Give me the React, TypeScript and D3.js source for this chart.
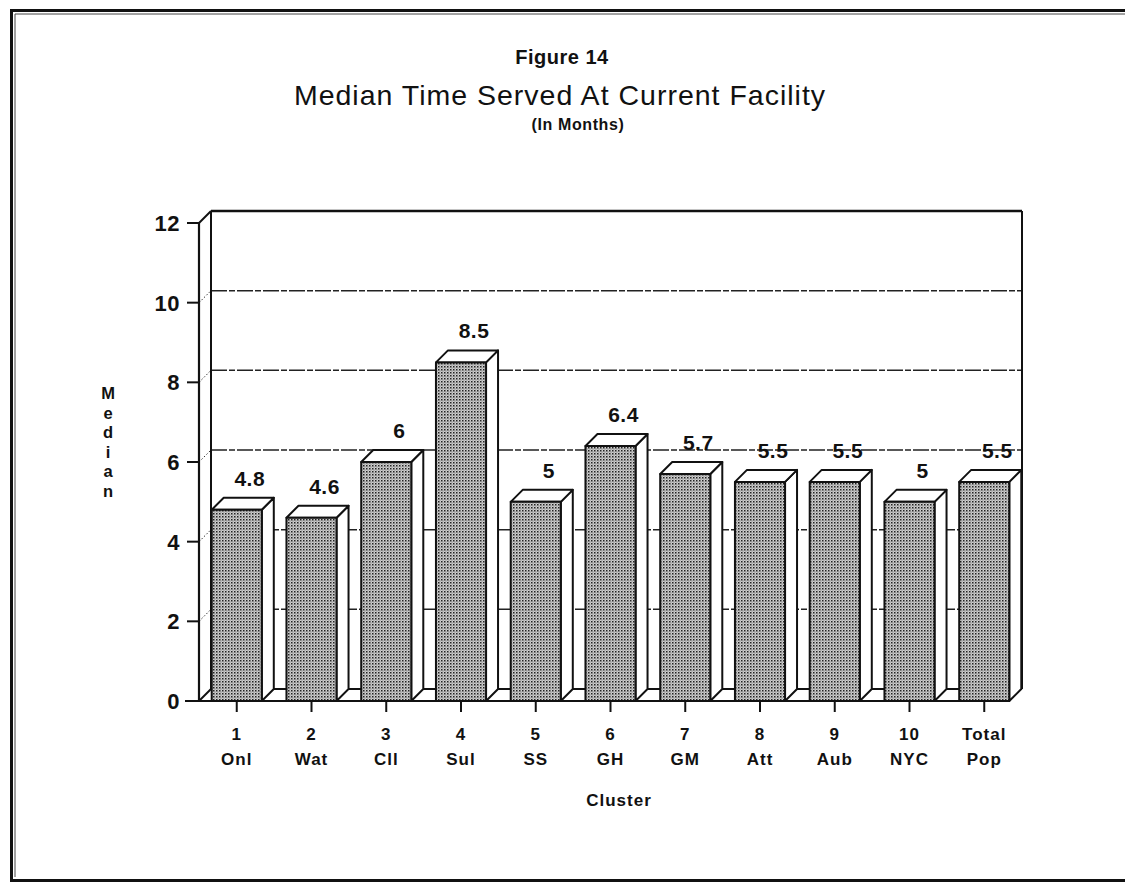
import React from 'react';
import * as d3 from 'd3';

// values
const clusterNums = ['1', '2', '3', '4', '5', '6', '7', '8', '9', '10', 'Total'];
const clusterNames = ['Onl', 'Wat', 'Cll', 'Sul', 'SS', 'GH', 'GM', 'Att', 'Aub', 'NYC', 'Pop'];
const medians = [4.8, 4.6, 6, 8.5, 5, 6.4, 5.7, 5.5, 5.5, 5, 5.5];
const yTicks = [0, 2, 4, 6, 8, 10, 12];
const gridValues = [2, 4, 6, 8, 10];

const W = 1125;
const H = 884;
const DX = 12; // 3d depth offset
const DY = 12;
const FONT = '"Liberation Sans", Arial, Helvetica, sans-serif';

export default function App() {
  const x = d3.scaleBand<string>()
    .domain(clusterNums)
    .range([199, 1022])
    .paddingInner(0.33)
    .paddingOuter(0.17);
  const y = d3.scaleLinear().domain([0, 12]).range([701, 223]);

  const bw = x.bandwidth();
  const y0 = y(0);
  const backLeft = 199 + DX;
  const backRight = 1022;

  return (
    <div style={{ position: 'absolute', left: 0, top: 0 }}>
      <svg width={W} height={H} style={{ display: 'block', background: '#fff' }} fontFamily={FONT}>
        <defs>
          <pattern id="stipple" width={3} height={3} patternUnits="userSpaceOnUse">
            <rect width={3} height={3} fill="#cfcfcf" />
            <rect x={0} y={0} width={1.5} height={1.5} fill="#222" />
            <rect x={1.5} y={1.5} width={1} height={1} fill="#666" />
          </pattern>
        </defs>

        {/* page frame */}
        <path d="M1130,10.5 H11.5 V880.5 H1130" fill="none" stroke="#111" strokeWidth={3} />
        <path d="M1130,14 H15 V877" fill="none" stroke="#444" strokeWidth={1} />

        {/* titles */}
        <text x={562} y={64} textAnchor="middle" fontSize={20} fontWeight="bold" fill="#111" letterSpacing={0.5}>Figure 14</text>
        <text x={560} y={105} textAnchor="middle" fontSize={28.5} fill="#111" letterSpacing={1}>
          Median Time Served At Current Facility
        </text>
        <text x={578} y={130} textAnchor="middle" fontSize={16} fontWeight="bold" fill="#111" letterSpacing={0.6}>(In Months)</text>

        {/* back wall gridlines */}
        {gridValues.map(v => (
          <g key={v}>
            <line x1={backLeft} x2={backRight} y1={y(v) - DY} y2={y(v) - DY}
              stroke="#222" strokeWidth={1.5} strokeDasharray="16 2 6 2" />
            <line x1={199} x2={backLeft} y1={y(v)} y2={y(v) - DY}
              stroke="#333" strokeWidth={1} strokeDasharray="1.5 2" />
          </g>
        ))}
        {/* top edge at 12 */}
        <line x1={backLeft} x2={backRight} y1={y(12) - DY} y2={y(12) - DY} stroke="#111" strokeWidth={2.4} />
        <line x1={199} x2={backLeft} y1={y(12)} y2={y(12) - DY} stroke="#111" strokeWidth={2} />
        {/* back wall verticals */}
        <line x1={backLeft} x2={backLeft} y1={y(12) - DY} y2={y0 - DY} stroke="#111" strokeWidth={2} />
        <line x1={backRight} x2={backRight} y1={y(12) - DY} y2={y0 - DY} stroke="#111" strokeWidth={2} />
        {/* floor */}
        <line x1={backLeft} x2={backRight} y1={y0 - DY} y2={y0 - DY} stroke="#111" strokeWidth={2} />
        <line x1={199} x2={backLeft} y1={y0} y2={y0 - DY} stroke="#111" strokeWidth={2} />

        {/* y axis */}
        <line x1={199} x2={199} y1={y(12)} y2={y0} stroke="#111" strokeWidth={2.2} />
        {yTicks.map(t => (
          <g key={t}>
            <line x1={187} x2={199} y1={y(t)} y2={y(t)} stroke="#111" strokeWidth={2} />
            <text x={180} y={y(t) + 8} textAnchor="end" fontSize={22} fontWeight="bold" fill="#111" letterSpacing={0.5}>{t}</text>
          </g>
        ))}
        {'Median'.split('').map((c, i) => (
          <text key={i} x={108} y={399 + i * 19.5} textAnchor="middle" fontSize={16.5} fontWeight="bold" fill="#111">{c}</text>
        ))}

        {/* bars */}
        {medians.map((v, i) => {
          const bx = x(clusterNums[i]) as number;
          const yt = y(v);
          const top = `M${bx},${yt} L${bx + DX},${yt - DY} L${bx + bw + DX},${yt - DY} L${bx + bw},${yt} Z`;
          const side = `M${bx + bw},${yt} L${bx + bw + DX},${yt - DY} L${bx + bw + DX},${y0 - DY} L${bx + bw},${y0} Z`;
          return (
            <g key={clusterNums[i]} stroke="#111" strokeWidth={2} strokeLinejoin="round">
              <path d={side} fill="#fff" />
              <path d={top} fill="#fff" />
              <rect x={bx} y={yt} width={bw} height={y0 - yt} fill="url(#stipple)" />
              <text x={bx + bw / 2 + 13} y={yt - DY - 12} textAnchor="middle" fontSize={21}
                fontWeight="bold" fill="#111" stroke="none" letterSpacing={0.5}>{v}</text>
            </g>
          );
        })}

        {/* baseline + x axis */}
        <line x1={185} x2={(x('Total') as number) + bw} y1={y0} y2={y0} stroke="#111" strokeWidth={2.2} />
        {clusterNums.map((c, i) => {
          const cx = (x(c) as number) + bw / 2;
          return (
            <g key={c}>
              <line x1={cx} x2={cx} y1={y0} y2={y0 + 11} stroke="#111" strokeWidth={2} />
              <text x={cx} y={740} textAnchor="middle" fontSize={17} fontWeight="bold" fill="#111" letterSpacing={1}>{c}</text>
              <text x={cx} y={765} textAnchor="middle" fontSize={17} fontWeight="bold" fill="#111" letterSpacing={1}>{clusterNames[i]}</text>
            </g>
          );
        })}
        <text x={619} y={806} textAnchor="middle" fontSize={17} fontWeight="bold" fill="#111" letterSpacing={1}>Cluster</text>
      </svg>
    </div>
  );
}
